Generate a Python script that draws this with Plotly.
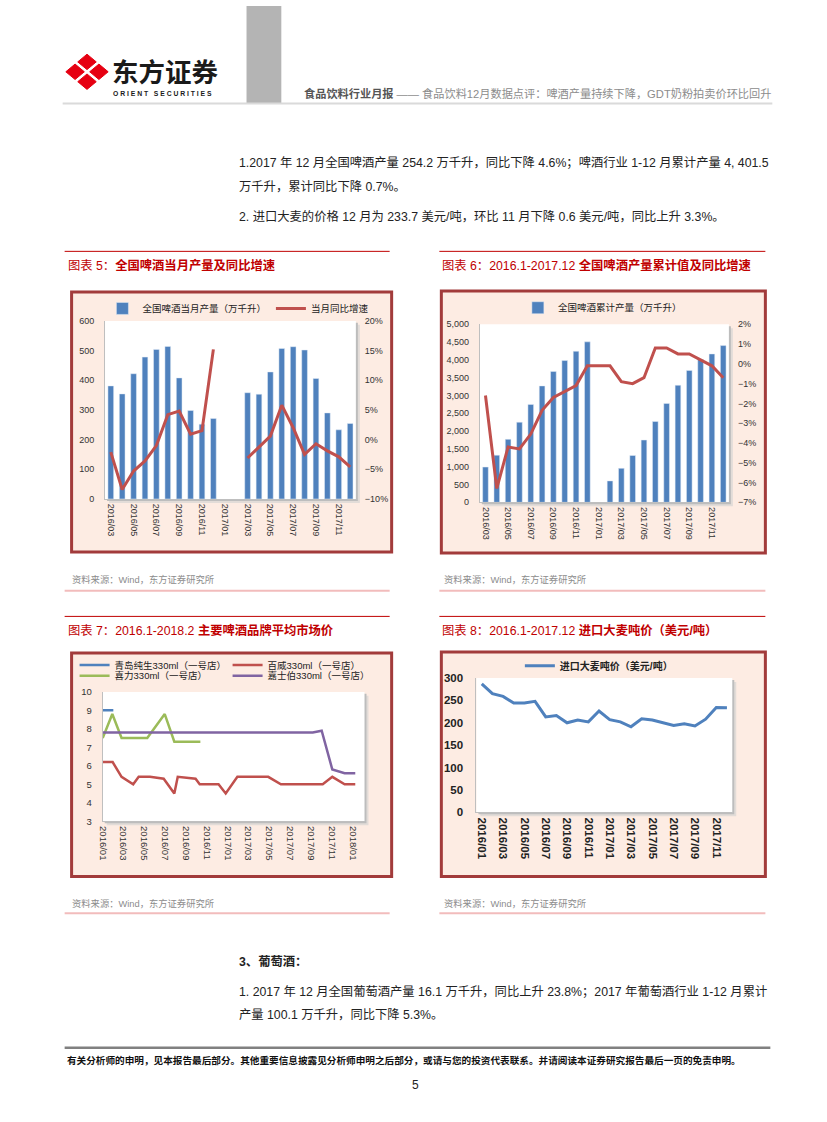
import plotly.graph_objects as go

W, H = 827, 1122
FONT = "Liberation Sans, Noto Sans CJK SC, sans-serif"
CJK = "Noto Sans CJK SC, sans-serif"

# ---------------- data ----------------
# Chart 5: monthly beer output (10k kL) and YoY growth (%)
months5 = ["2016/03", "2016/04", "2016/05", "2016/06", "2016/07", "2016/08", "2016/09",
           "2016/10", "2016/11", "2016/12", "2017/01", "2017/02", "2017/03", "2017/04",
           "2017/05", "2017/06", "2017/07", "2017/08", "2017/09", "2017/10", "2017/11", "2017/12"]
ticks5 = ["2016/03", "2016/05", "2016/07", "2016/09", "2016/11", "2017/01",
          "2017/03", "2017/05", "2017/07", "2017/09", "2017/11"]
beer_monthly = [381, 354, 422, 478, 504, 514, 408, 298, 252, 271, None, None,
                358, 353, 428, 507, 513, 502, 406, 290, 233, 254.2]
beer_monthly_yoy = [-2.1, -8.4, -5.3, -3.6, -1.0, 4.2, 4.8, 0.9, 1.5, 15.2, None, None,
                    -3.1, -1.2, 0.6, 5.8, 2.0, -2.5, -0.7, -1.9, -2.9, -4.6]

# Chart 6: cumulative beer output (10k kL) and cumulative YoY (%)
months6 = months5
ticks6 = ticks5
beer_cum = [991, 1324, 1769, 2250, 2750, 3269, 3676, 3981, 4241, 4506, None, 602,
            954, 1315, 1750, 2269, 2778, 3287, 3704, 4009, 4167, 4401.5]
beer_cum_yoy = [-1.6, -6.3, -4.2, -4.3, -3.55, -2.35, -1.7, -1.4, -1.1, -0.1, -0.1, -0.1,
                -0.9, -1.0, -0.7, 0.8, 0.8, 0.5, 0.5, 0.2, -0.1, -0.7]

# Chart 7: average market price of main beer brands (yuan)
tsingtao_dates = ["2016-01-01", "2016-02-01"]
tsingtao_price = [9.0, 9.0]
budweiser_dates = ["2016-01-01", "2016-01-30", "2016-02-25", "2016-03-30", "2016-04-15",
                   "2016-05-18", "2016-06-27", "2016-07-28", "2016-08-07", "2016-09-28",
                   "2016-10-10", "2016-12-04", "2016-12-25", "2017-01-28", "2017-04-28",
                   "2017-06-04", "2017-10-04", "2017-11-01", "2017-12-07", "2018-01-07"]
budweiser_price = [6.2, 6.2, 5.4, 5.0, 5.4, 5.4, 5.3, 4.5, 5.4, 5.3,
                   5.0, 5.0, 4.5, 5.4, 5.4, 5.0, 5.0, 5.4, 5.0, 5.0]
heineken_dates = ["2016-01-01", "2016-01-29", "2016-02-25", "2016-05-10", "2016-06-30",
                  "2016-07-28", "2016-10-12"]
heineken_price = [7.5, 8.8, 7.5, 7.5, 8.8, 7.3, 7.3]
carlsberg_dates = ["2016-01-01", "2017-09-05", "2017-10-01", "2017-11-01", "2017-12-07",
                   "2018-01-07"]
carlsberg_price = [7.8, 7.8, 7.9, 5.8, 5.6, 5.6]

# Chart 8: imported barley price (USD/t)
months8 = ["2016/01", "2016/02", "2016/03", "2016/04", "2016/05", "2016/06", "2016/07",
           "2016/08", "2016/09", "2016/10", "2016/11", "2016/12", "2017/01", "2017/02",
           "2017/03", "2017/04", "2017/05", "2017/06", "2017/07", "2017/08", "2017/09",
           "2017/10", "2017/11", "2017/12"]
ticks8 = ["2016/01", "2016/03", "2016/05", "2016/07", "2016/09", "2016/11", "2017/01",
          "2017/03", "2017/05", "2017/07", "2017/09", "2017/11"]
barley_price = [287, 265, 259, 244, 244, 248, 213, 216, 200, 206, 202, 226.2,
                207, 202, 191, 209, 206, 200, 194, 198, 193, 208, 234.3, 233.7]

# ---------------- helpers (page pixels -> paper fractions) ----------------
def X(p):
    return p / W

def Y(p):
    return 1 - p / H

BLUE = "#4F81BD"
RED = "#C0504D"
GREEN = "#9BBB59"
PURPLE = "#8064A2"
TITLE_RED = "#C00000"

fig = go.Figure()

# ---------------- traces ----------------
fig.add_trace(go.Bar(x=months5, y=beer_monthly, name="全国啤酒当月产量（万千升）",
                     marker_color=BLUE, width=0.5, xaxis="x", yaxis="y", legend="legend"))
fig.add_trace(go.Scatter(x=months5, y=beer_monthly_yoy, name="当月同比增速", mode="lines",
                         line=dict(color=RED, width=3), xaxis="x", yaxis="y2",
                         legend="legend", connectgaps=False))

fig.add_trace(go.Bar(x=months6, y=beer_cum, name="全国啤酒累计产量（万千升）",
                     marker_color=BLUE, width=0.5, xaxis="x2", yaxis="y3", legend="legend2"))
fig.add_trace(go.Scatter(x=months6, y=beer_cum_yoy, name="累计同比增速", mode="lines",
                         line=dict(color=RED, width=3), xaxis="x2", yaxis="y4",
                         showlegend=False))

fig.add_trace(go.Scatter(x=tsingtao_dates, y=tsingtao_price, name="青岛纯生330ml（一号店）",
                         mode="lines", line=dict(color=BLUE, width=2.5),
                         xaxis="x3", yaxis="y5", legend="legend3"))
fig.add_trace(go.Scatter(x=budweiser_dates, y=budweiser_price, name="百威330ml（一号店）",
                         mode="lines", line=dict(color=RED, width=2.5),
                         xaxis="x3", yaxis="y5", legend="legend3"))
fig.add_trace(go.Scatter(x=heineken_dates, y=heineken_price, name="喜力330ml（一号店）",
                         mode="lines", line=dict(color=GREEN, width=2.5),
                         xaxis="x3", yaxis="y5", legend="legend4"))
fig.add_trace(go.Scatter(x=carlsberg_dates, y=carlsberg_price, name="嘉士伯330ml（一号店）",
                         mode="lines", line=dict(color=PURPLE, width=2.5),
                         xaxis="x3", yaxis="y5", legend="legend4"))

fig.add_trace(go.Scatter(x=months8, y=barley_price, name="进口大麦吨价（美元/吨）",
                         mode="lines", line=dict(color=BLUE, width=3),
                         xaxis="x4", yaxis="y6", legend="legend5"))

# ---------------- axes ----------------
tickfont = dict(family=FONT, size=9, color="#333333")
tickfont7 = dict(family=FONT, size=9.5, color="#333333")
tickfont8 = dict(family=FONT, size=11.5, color="#222222", weight="bold")

common_x = dict(type="category", tickangle=90, showgrid=False, zeroline=False,
                showline=True, linecolor="#BFBFBF", linewidth=1, ticks="",
                ticklabelstandoff=2)
common_y = dict(showgrid=False, zeroline=False, ticks="")

# plot areas (page pixels): l, t, r, b
pa5 = (100.7, 318.3, 353.0, 498.3)
pa6 = (477.7, 321.7, 728.3, 501.7)
pa7 = (98.3, 693.3, 361.7, 824.0)
pa8 = (474.3, 679.3, 731.7, 815.0)

fig.update_layout(
    xaxis=dict(common_x, domain=[X(pa5[0]), X(pa5[2])], anchor="y",
               range=[-0.5, len(months5) - 0.5], tickvals=ticks5, tickfont=tickfont),
    yaxis=dict(common_y, domain=[Y(pa5[3]), Y(pa5[1])], range=[0, 600], dtick=100,
               showline=True, linecolor="#BFBFBF", tickfont=tickfont, ticklabelstandoff=8),
    yaxis2=dict(common_y, overlaying="y", side="right", range=[-10, 20], dtick=5,
                ticksuffix="%", tickfont=tickfont, ticklabelstandoff=8),
    xaxis2=dict(common_x, domain=[X(pa6[0]), X(pa6[2])], anchor="y3",
                range=[-0.5, len(months6) - 0.5], tickvals=ticks6, tickfont=tickfont),
    yaxis3=dict(common_y, domain=[Y(pa6[3]), Y(pa6[1])], range=[0, 5000], dtick=500,
                tickformat=",", showline=True, linecolor="#BFBFBF", tickfont=tickfont,
                ticklabelstandoff=8, anchor="x2"),
    yaxis4=dict(common_y, overlaying="y3", side="right", range=[-7, 2], dtick=1,
                ticksuffix="%", tickfont=tickfont, ticklabelstandoff=8, anchor="x2"),
    xaxis3=dict(type="date", domain=[X(pa7[0]), X(pa7[2])], anchor="y5",
                range=["2016-01-01", "2018-02-03"], tick0="2016-01-01", dtick="M2",
                tickformat="%Y/%m", tickangle=90, showgrid=False, zeroline=False,
                showline=True, linecolor="#BFBFBF", ticks="", tickfont=tickfont7,
                ticklabelstandoff=2),
    yaxis5=dict(common_y, domain=[Y(pa7[3]), Y(pa7[1])], range=[3, 10], dtick=1,
                showline=True, linecolor="#BFBFBF", tickfont=tickfont7,
                ticklabelstandoff=8, anchor="x3"),
    xaxis4=dict(common_x, domain=[X(pa8[0]), X(pa8[2])], anchor="y6",
                range=[-0.5, len(months8) - 0.5], tickvals=ticks8, tickfont=tickfont8),
    yaxis6=dict(common_y, domain=[Y(pa8[3]), Y(pa8[1])], range=[0, 300], dtick=50,
                showline=True, linecolor="#BFBFBF", tickfont=tickfont8,
                ticklabelstandoff=10, anchor="x4"),
)

# ---------------- legends ----------------
legfont = dict(family=FONT, size=9.5, color="#222222")
base_leg = dict(orientation="h", xanchor="left", yanchor="middle",
                bgcolor="rgba(0,0,0,0)", font=legfont, tracegroupgap=0)
fig.update_layout(
    legend=dict(base_leg, x=X(98), y=Y(305.7)),
    legend2=dict(base_leg, x=X(516), y=Y(305)),
    legend3=dict(base_leg, x=X(70), y=Y(666), entrywidth=108),
    legend4=dict(base_leg, x=X(70), y=Y(677), entrywidth=108),
    legend5=dict(base_leg, x=X(518), y=Y(667),
                 font=dict(family=FONT, size=10, color="#222222", weight="bold")),
)

# ---------------- shapes ----------------
shapes = []

def rect(l, t, r, b, fill, line_color=None, lw=0, layer="below"):
    shapes.append(dict(type="rect", xref="paper", yref="paper",
                       x0=X(l), x1=X(r), y0=Y(b), y1=Y(t), fillcolor=fill,
                       line=dict(color=line_color or fill, width=lw), layer=layer))

def hline(x0, x1, y, color, lw):
    shapes.append(dict(type="line", xref="paper", yref="paper",
                       x0=X(x0), x1=X(x1), y0=Y(y), y1=Y(y),
                       line=dict(color=color, width=lw), layer="below"))

# header
rect(243, 0, 278, 98, "#B4B4B4")
hline(58, 772, 98.5, "#DADADA", 2)

# logo: four red diamonds
def diamond(cx, cy, hx, hy):
    pts = [(cx, cy - hy), (cx + hx, cy), (cx, cy + hy), (cx - hx, cy)]
    path = "M " + " L ".join(f"{X(a):.5f},{Y(b):.5f}" for a, b in pts) + " Z"
    shapes.append(dict(type="path", xref="paper", yref="paper", path=path,
                       fillcolor="#E60012", line=dict(color="#E60012", width=1),
                       layer="below"))

lc = (82.5, 66.5)
for dx, dy in [(0, -10), (12, 0), (0, 10), (-12, 0)]:
    diamond(lc[0] + dx, lc[1] + dy, 9.3, 7.8)

# chart boxes
boxes = [(67, 289, 389, 552), (439, 288, 765, 553), (67, 654, 389, 880), (439, 653, 765, 880)]
for l, t, r, b in boxes:
    rect(l, t, r, b, "#FDECE3", "#A23B3B", 3)

for l, t, r, b in [pa5, pa6, pa7, pa8]:
    rect(l + 4, t + 4, r + 4, b + 4, "#E2DCD8")
    rect(l + 2, t + 2, r + 2, b + 2, "#BDBDBD")
    rect(l, t, r, b, "#FFFFFF")

# chart title rules and source rules
for x0, x1 in [(60, 387), (437, 765)]:
    hline(x0, x1, 248, TITLE_RED, 1)
    hline(x0, x1, 617, TITLE_RED, 1)
    hline(x0, x1, 591, "#F2BCBC", 2)
    hline(x0, x1, 917, "#F2BCBC", 2)

# footer rule
hline(60, 770, 1053, "#808080", 2.5)

# ---------------- annotations ----------------
anns = []

def txt(x, y, s, size, color="#222222", bold=False, anchor="left", family=FONT):
    anns.append(dict(x=X(x), y=Y(y), xref="paper", yref="paper", text=s,
                     showarrow=False, xanchor=anchor, yanchor="middle",
                     font=dict(size=size, color=color, family=family,
                               weight="bold" if bold else "normal")))

# logo text
txt(106, 65, "东方证券", 26.5, "#1A1A1A", True, family=CJK)
txt(107, 88.5, "O R I E N T &nbsp; S E C U R I T I E S", 6.8, "#1A1A1A", True)

# header title
txt(299, 88, "<b>食品饮料行业月报</b><span style='color:#8C8C8C'> —— 食品饮料12月数据点评：啤酒产量持续下降，GDT奶粉拍卖价环比回升</span>",
    11.2, "#555555")

# body text
BODY = 12.3
txt(233, 158, "1.2017 年 12 月全国啤酒产量 254.2 万千升，同比下降 4.6%；啤酒行业 1-12 月累计产量 4, 401.5", BODY)
txt(233, 183, "万千升，累计同比下降 0.7%。", BODY)
txt(233, 213, "2. 进口大麦的价格 12 月为 233.7 美元/吨，环比 11 月下降 0.6 美元/吨，同比上升 3.3%。", BODY)

# chart titles
txt(61, 262, "图表 5：<b>全国啤酒当月产量及同比增速</b>", 12.3, TITLE_RED)
txt(438, 262, "图表 6：2016.1-2017.12 <b>全国啤酒产量累计值及同比增速</b>", 12.3, TITLE_RED)
txt(61, 631, "图表 7：2016.1-2018.2 <b>主要啤酒品牌平均市场价</b>", 12.3, TITLE_RED)
txt(438, 631, "图表 8：2016.1-2017.12 <b>进口大麦吨价（美元/吨）</b>", 12.3, TITLE_RED)

# sources
for x0 in (65, 440):
    txt(x0, 580, "资料来源：Wind，东方证券研究所", 9.3, "#8C8C8C")
    txt(x0, 907, "资料来源：Wind，东方证券研究所", 9.3, "#8C8C8C")

# wine section
txt(233, 966, "<b>3、葡萄酒：</b>", BODY)
txt(233, 996, "1. 2017 年 12 月全国葡萄酒产量 16.1 万千升，同比上升 23.8%；2017 年葡萄酒行业 1-12 月累计", BODY)
txt(233, 1020, "产量 100.1 万千升，同比下降 5.3%。", BODY)

# footer
txt(60, 1066, "有关分析师的申明，见本报告最后部分。其他重要信息披露见分析师申明之后部分，或请与您的投资代表联系。并请阅读本证券研究报告最后一页的免责申明。",
    9.65, "#111111", True)
txt(413, 1091, "5", 12, "#222222", anchor="center")

fig.update_layout(
    width=W, height=H, margin=dict(l=0, r=0, t=0, b=0),
    paper_bgcolor="#FFFFFF", plot_bgcolor="rgba(0,0,0,0)",
    shapes=shapes, annotations=anns, barmode="group",
    font=dict(family=FONT), hovermode=False,
)

fig.write_html(
    "out.html",
    config={"displayModeBar": False},
    post_script=("document.documentElement.style.margin='0';"
                 "document.documentElement.style.padding='0';"
                 "document.documentElement.style.overflow='hidden';"
                 "document.body.style.margin='0';"
                 "document.body.style.padding='0';"
                 "document.body.style.overflow='hidden';"),
)
